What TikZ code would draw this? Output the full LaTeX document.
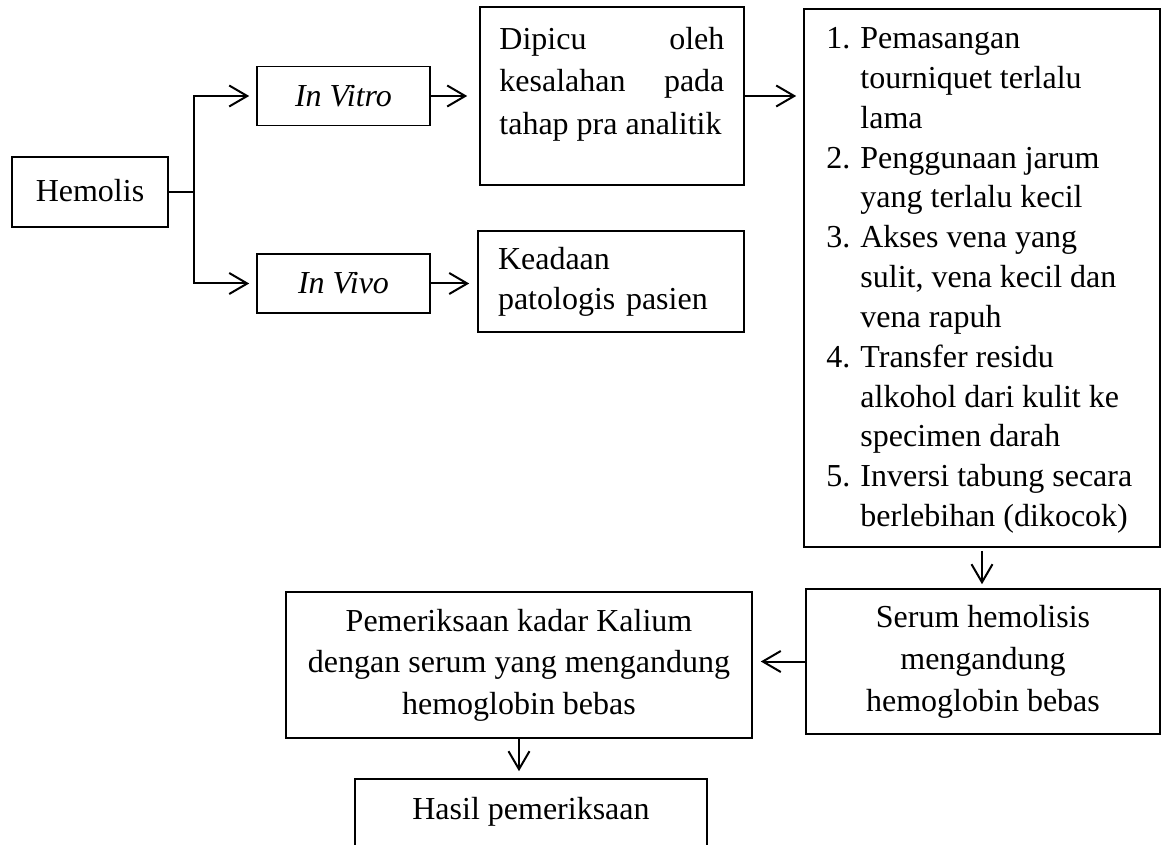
\documentclass[tikz,border=0pt]{standalone}
\usepackage{fontspec}
\setmainfont{Liberation Serif}
\usetikzlibrary{arrows.meta}
\begin{document}
\begin{tikzpicture}[x=0.5pt,y=-0.5pt,
  box/.style={draw, line width=0.8pt, inner sep=0pt, font=\fontsize{16pt}{20pt}\selectfont},
  txt/.style={inner sep=0pt, font=\fontsize{16pt}{20pt}\selectfont},
  arr/.style={-{Straight Barb[length=9pt,width=10.5pt,line width=1pt]}, line width=1pt},
  ln/.style={line width=1pt}]
\useasboundingbox (0,0) rectangle (1168,845);

\node[box, minimum width=78pt, minimum height=35pt] (hem) at (90,192) {\raisebox{2pt}{Hemolis}};
\node[box, minimum width=86.5pt, minimum height=29.5pt] (vitro) at (343.5,96) {\itshape In Vitro};
\node[box, minimum width=86.5pt, minimum height=29.5pt] (vivo) at (343.5,283.5) {\itshape In Vivo};

\node[box, minimum width=132pt, minimum height=89pt] (dip) at (612,96) {};
\node[txt, anchor=north west, align=left, font=\fontsize{16pt}{21.25pt}\selectfont] (diptext) at (499,26.5)
  {\hbox to 112.5pt{Dipicu\hfill oleh}\\ \hbox to 112.5pt{kesalahan\hfill pada}\\ tahap pra analitik};

\node[box, minimum width=133pt, minimum height=50.5pt, text width=113pt, align=left] (kea) at (611,281.5) {Keadaan\\patologis pasien};

\node[box, minimum width=178pt, minimum height=269pt] (list) at (982,278) {};
\node[txt, anchor=north west, align=left, font=\fontsize{16pt}{19.92pt}\selectfont] (listtext) at (826,27) {%
\makebox[17pt][l]{1.}Pemasangan\\
\hspace*{17pt}tourniquet terlalu\\
\hspace*{17pt}lama\\
\makebox[17pt][l]{2.}Penggunaan jarum\\
\hspace*{17pt}yang terlalu kecil\\
\makebox[17pt][l]{3.}Akses vena yang\\
\hspace*{17pt}sulit, vena kecil dan\\
\hspace*{17pt}vena rapuh\\
\makebox[17pt][l]{4.}Transfer residu\\
\hspace*{17pt}alkohol dari kulit ke\\
\hspace*{17pt}specimen darah\\
\makebox[17pt][l]{5.}Inversi tabung secara\\
\hspace*{17pt}berlebihan (dikocok)};

\node[box, minimum width=177pt, minimum height=72.5pt, align=center, font=\fontsize{16pt}{21pt}\selectfont] (serum) at (983,661.5)
  {Serum hemolisis\\mengandung\\hemoglobin bebas};
\node[box, minimum width=233pt, minimum height=73pt, align=center, font=\fontsize{16pt}{20.75pt}\selectfont] (pem) at (519,665)
  {Pemeriksaan kadar Kalium\\dengan serum yang mengandung\\hemoglobin bebas};
\node[box, minimum width=176pt, minimum height=46pt] (hasil) at (531,825) {};
\node[txt] (hasiltext) at (531,812) {Hasil pemeriksaan};

\coordinate (split) at (194,192);
\draw[ln] (hem.east) -- (split);
\draw[arr, shorten >=3.5pt] (split) |- (vitro.west);
\draw[arr, shorten >=3.5pt] (split) |- (vivo.west);
\draw[arr, shorten >=6pt] (vitro.east) -- (vitro.east -| dip.west);
\draw[arr, shorten >=4pt] (vivo.east) -- (vivo.east -| kea.west);
\draw[arr, shorten >=3.5pt] (dip.east) -- (dip.east -| list.west);
\draw[arr, shorten <=1.5pt, shorten >=2pt] (list.south) -- (list.south |- serum.north);
\draw[arr, shorten >=4pt] (serum.west) -- (serum.west -| pem.east);
\draw[arr, shorten >=3.5pt] (pem.south) -- (pem.south |- hasil.north);
\end{tikzpicture}
\end{document}
